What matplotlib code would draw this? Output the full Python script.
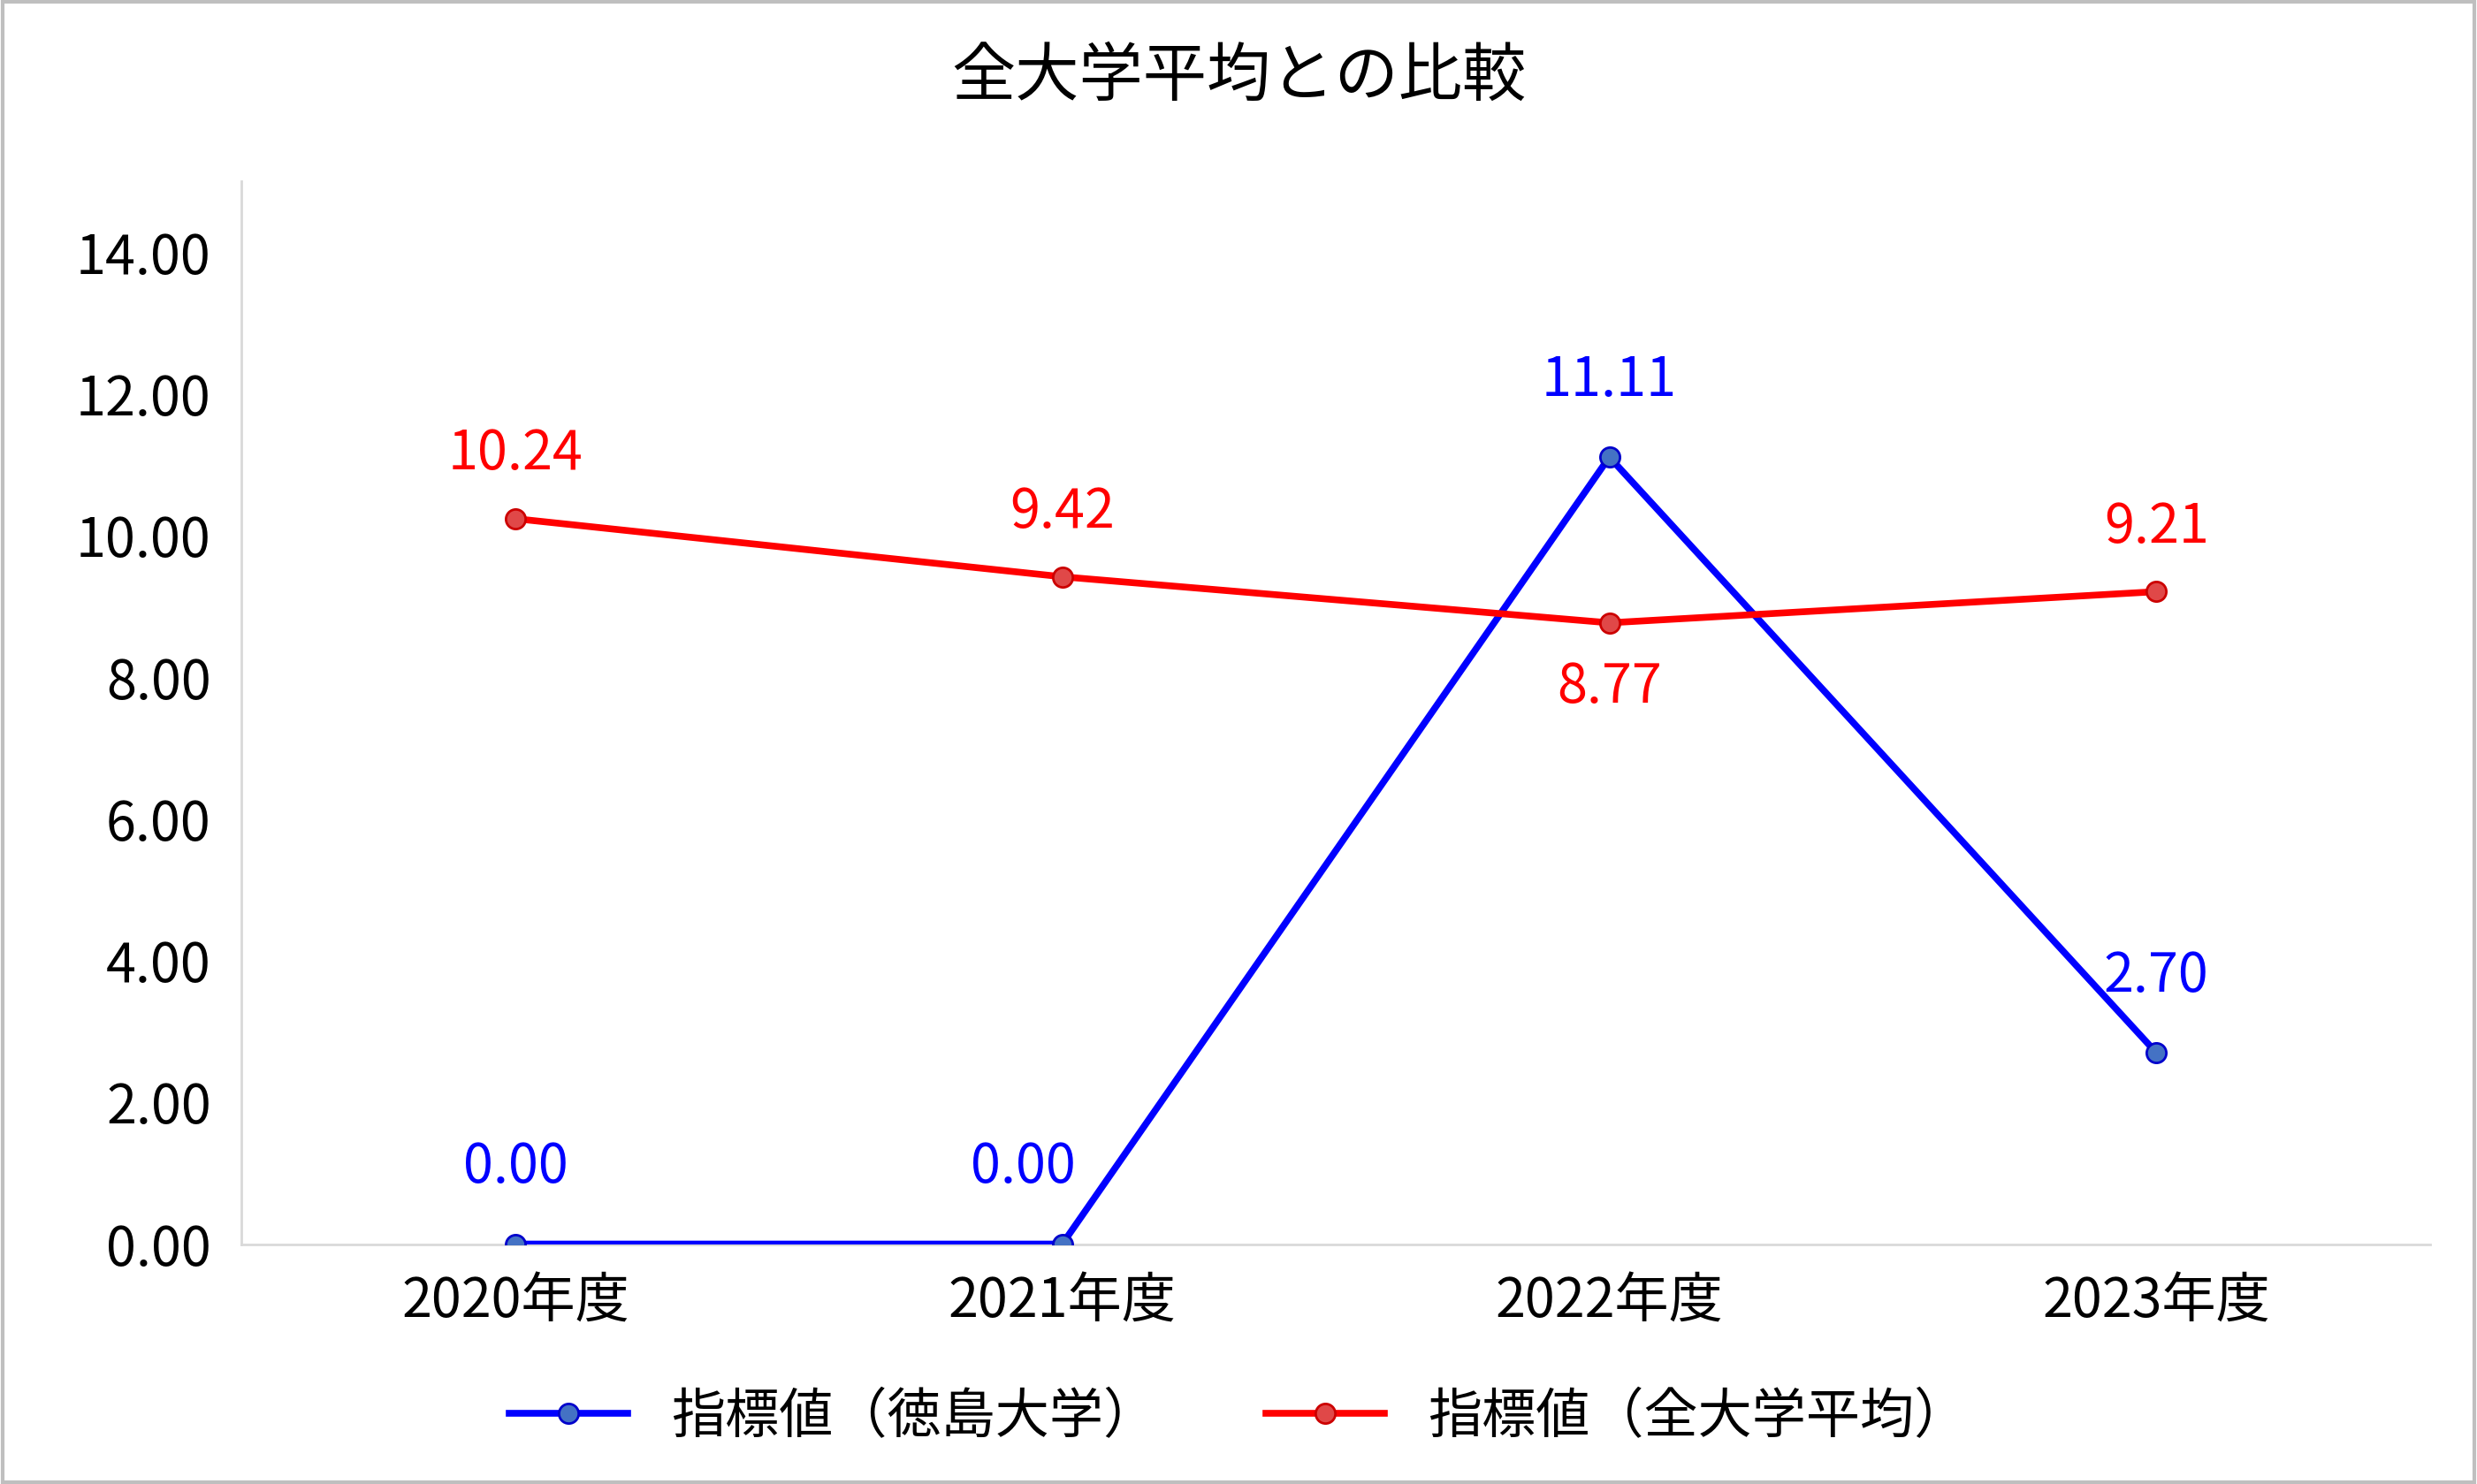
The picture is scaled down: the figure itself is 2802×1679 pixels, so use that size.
import matplotlib
matplotlib.use("Agg")
import matplotlib.pyplot as plt
from matplotlib.patches import Rectangle

plt.rcParams["font.family"] = "Noto Sans CJK JP"

categories = ["2020年度", "2021年度", "2022年度", "2023年度"]
tokushima = [0.00, 0.00, 11.11, 2.70]
all_avg = [10.24, 9.42, 8.77, 9.21]
yticks = [0, 2, 4, 6, 8, 10, 12, 14]

fig = plt.figure(figsize=(28.02, 16.79), dpi=100)
ax = fig.add_axes([0.0976, 0.1617, 0.8834, 0.716])
x = list(range(len(categories)))

ax.plot(x, tokushima, color="#0000FF", lw=5.5, marker="o", ms=16,
        mfc="#4472C4", mec="#0000CC", mew=2, label="指標値（徳島大学）", zorder=3)
ax.plot(x, all_avg, color="#FF0000", lw=5.5, marker="o", ms=16,
        mfc="#E04848", mec="#CC0000", mew=2, label="指標値（全大学平均）", zorder=3)

fs = 44
for i, v in enumerate(tokushima):
    dx = -0.12 if i == 1 else 0
    ax.annotate(f"{v:.2f}", (i, v), xytext=(dx * 620, 45), textcoords="offset points",
                ha="center", va="bottom", color="#0000FF", fontsize=fs) if False else None
offs_t = [(0, 40), (-32, 40), (0, 40), (0, 40)]
for i, v in enumerate(tokushima):
    ax.annotate(f"{v:.2f}", (i, v), xytext=offs_t[i], textcoords="offset points",
                ha="center", va="bottom", color="#0000FF", fontsize=fs)
for i, v in enumerate(all_avg):
    if i == 2:
        ax.annotate(f"{v:.2f}", (i, v), xytext=(0, -30), textcoords="offset points",
                    ha="center", va="top", color="#FF0000", fontsize=fs)
    else:
        ax.annotate(f"{v:.2f}", (i, v), xytext=(0, 30), textcoords="offset points",
                    ha="center", va="bottom", color="#FF0000", fontsize=fs)

ax.set_xlim(-0.5, 3.5)
ax.set_ylim(0, 15)
ax.set_yticks(yticks)
ax.set_yticklabels([f"{t:.2f}" for t in yticks], fontsize=fs)
ax.set_xticks(x)
ax.set_xticklabels(categories, fontsize=fs)
ax.tick_params(length=0, pad=25)
for s in ["top", "right"]:
    ax.spines[s].set_visible(False)
for s in ["left", "bottom"]:
    ax.spines[s].set_color("#D9D9D9")
    ax.spines[s].set_linewidth(2)

fig.suptitle("全大学平均との比較", fontsize=52, y=0.97)
fig.legend(loc="center", bbox_to_anchor=(0.5, 0.045), ncol=2, frameon=False,
           fontsize=fs, handlelength=2.2, columnspacing=2.0)
fig.patches.append(Rectangle((0.001, 0.001), 0.998, 0.998, transform=fig.transFigure,
                             fill=False, edgecolor="#BFBFBF", lw=3))
fig.savefig("out.png", dpi=100)
